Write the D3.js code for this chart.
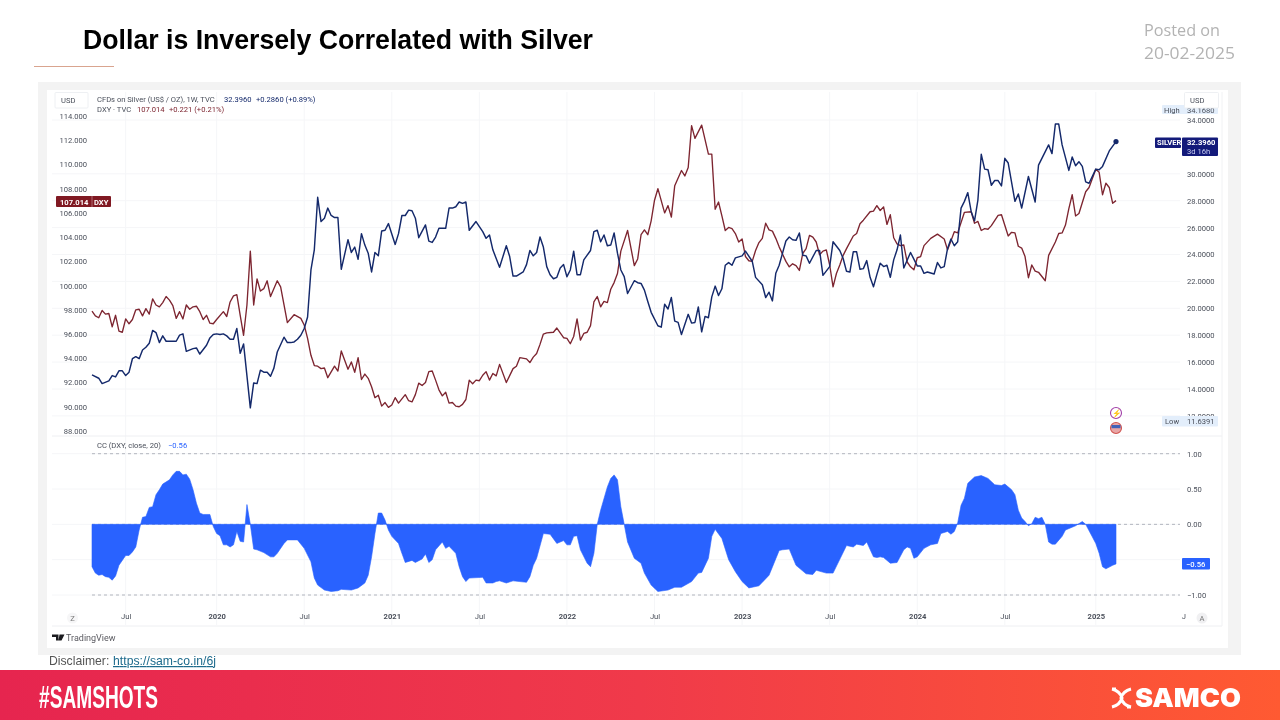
<!DOCTYPE html>
<html><head><meta charset="utf-8">
<script src="https://cdn.jsdelivr.net/npm/d3@7"></script>
<style>html,body{margin:0;padding:0;background:#fff}svg{display:block;filter:blur(0.3px)}
.tv{font-family:Roboto,sans-serif;font-size:7.6px;fill:#4a4f5a}
</style></head><body><div id="chart"></div>
<script>
const dxyWeeks=[0,1,2,3,4,5,6,7,8,9,10,11,12,13,14,15,16,17,18,19,20,21,22,23,24,25,26,27,28,29,30,31,32,33,34,35,36,37,39,40,41,42,43,44,45,46,47,48,49,50,51,52,53,55,56,58,60,62,63,64,65,66,67,68,69,70,72,73,74,76,77,78,79,80,81,82,83,84,85,86,87,88,89,90,91,93,94,95,96,97,98,99,100,101,102,103,104,105,106,107,108,109,110,111,112,113,114,115,116,117,118,119,120,121,123,125,126,127,129,130,131,132,133,134,135,137,138,140,141,142,143,144,145,146,147,148,149,150,151,152,153,154,155,156,157,159,161,162,163,164,165,166,167,168,170,171,172,173,175,176,177,178,179,181,183,184,185,186,187,188,189,190,191,192,193,194,195,196,197,198,199,200,201,202,203,204,206,207,208,209,210,211,212,213,214,215,216,217,218,219,220,221,222,223,224,226,227,228,229,231,232,233,234,235,236,237,238,239,240,241,242,243,244,245,246,247,249,251,253,254,256,257,259,261,262,263,264,265,266,267,269,270,272,273,274,275,276,277,278,279,280,281,283,284,286,287,288,289,290,291,292,293,295,296,298,299,300,301,302,303,304];
const dxyValues=[97.9,97.5,97.35,97.95,97.65,97.7,96.6,97.55,96.25,96.15,97.25,96.85,97.2,98,98.05,97.5,98.1,97.65,98.9,98.4,98.25,98.6,99.1,98.8,98.35,97.3,97.85,97.25,98.4,98.05,98.25,98.3,97.85,97.2,97.55,96.9,96.85,97.2,97.85,97.45,98.65,99.15,99.25,97.55,95.9,98.4,102.85,98.4,100.55,99.55,99.75,100.4,99.1,100.4,99.9,96.95,97.6,97.3,96.75,95.65,94.25,93.4,93.35,93.15,93.2,92.4,93.35,92.95,94.6,93.1,93.7,92.85,94.05,92.25,92.7,92.35,91.65,90.75,90.95,90.05,90.35,89.95,90.15,90.75,90.3,91,90.5,90.4,91,91.95,91.75,92,92.9,92.95,92.2,91.4,90.9,91.2,90.3,90.35,90.05,90,90.2,90.6,92.2,91.9,92.2,92.15,92.6,92.9,92.2,92.75,92.55,93.5,92,93.15,93.35,94.05,93.95,93.65,94.1,94.4,95.15,96,96.1,96.15,96.5,95.7,95.65,95.2,95.8,97.25,95.5,96.05,96.15,96.7,98.65,99.1,98.25,98.7,98.6,99.7,100.25,101,102.85,104.55,101.65,102.2,104.2,104.6,104.2,105.35,107.05,108,106,106.6,105.65,108.25,109.5,109.05,109.75,113.2,112.15,113.25,110.85,110.85,106.3,106.9,105.75,104.55,104.8,104.7,104.3,103.6,103.85,102.4,102.05,102,102.9,103.55,103.9,105.15,104.6,104.5,103.9,103.2,102,101.55,101.8,101.65,101.25,102.65,103.05,104.15,104,103.6,102.55,102.85,102.95,101.7,99.9,101,101.7,102.5,103.05,104.1,104.3,105.1,105.4,106.1,106.15,106.6,106.2,106.5,105.05,105.85,103.95,103.45,103.3,103.35,101.95,101.55,101.3,102.3,102.4,103.3,103.9,104.25,103.85,102.95,104.45,104.35,106.05,106.1,105.15,105.3,104.55,104.7,104.65,104.95,105.8,105.85,104.1,104.4,104.35,103.25,103.1,102.4,100.65,101.7,101.2,101.1,100.4,102.5,103.6,104.3,104.35,105,106.35,107.5,105.75,105.95,107.75,108.1,109.6,109.35,107.5,108.45,108.1,106.8,107.014];
const silverWeeks=[0,2,3,5,6,7,8,9,10,11,12,13,14,15,16,17,18,19,20,21,22,25,26,27,28,30,31,32,34,35,36,37,38,39,40,41,42,43,44,45,47,48,49,50,51,52,53,54,55,57,58,59,60,61,62,63,64,65,66,67,68,69,70,71,72,73,74,76,77,78,79,80,81,82,83,84,85,86,87,88,90,91,92,93,94,95,96,97,99,100,101,102,103,105,106,107,108,109,110,111,112,114,116,117,118,119,121,123,124,125,126,128,129,130,131,132,133,134,135,136,137,138,139,140,141,142,143,144,145,146,148,149,150,151,152,153,154,155,156,157,158,159,161,162,163,164,165,166,168,169,170,171,172,173,174,175,177,178,179,180,181,182,183,184,185,186,187,188,189,190,191,193,194,196,197,199,200,201,202,203,204,206,207,208,209,210,211,212,213,215,216,217,219,220,222,223,224,225,226,227,228,229,230,231,232,233,234,235,236,237,238,239,240,241,243,245,246,247,248,250,251,252,253,254,255,256,257,258,259,260,261,262,263,264,265,266,267,268,269,270,271,272,274,275,276,278,280,281,284,285,286,287,288,290,291,292,293,294,295,296,298,299,300,302,304];
const silverValues=[15.05,14.8,14.4,14.6,15,14.9,15.35,15.35,15,15.25,16.25,16.4,16.25,16.9,17.1,17.4,18.35,18.2,17.45,17.95,17.55,17.55,18,18.1,16.8,17,17.05,16.6,17.25,17.8,18.05,18.1,18.05,18.1,17.95,17.7,17.7,18.5,16.65,17.35,12.6,14.45,14.4,15.4,15.25,15.25,14.95,15.55,16.75,17.85,17.45,17.45,17.5,17.7,18,18.5,19.35,22.85,24.35,28.25,26.45,26.7,27.45,26.9,26.75,26.75,22.9,25.1,24.15,24.55,23.65,25.55,24.7,24.1,22.7,24.15,23.9,25.75,25.8,26.3,24.75,25.55,26.9,26.9,27.3,27.25,26.7,25.25,26.2,25,24.9,25.3,25.95,25.95,27.45,27.45,27.55,27.9,27.8,27.9,25.8,26.45,25.7,25.2,25.45,24.35,23.05,24.65,23.85,22.4,22.4,22.7,23.25,24.3,23.9,24.15,25.3,24.55,23.1,22.5,22.2,22.3,23,23.25,22.35,22.85,24.25,22.5,22.5,23.6,24.3,25.7,25.8,24.95,25.45,24.65,24.7,25.6,24.1,22.85,22.35,21.1,22.05,21.9,21.85,21.35,20.5,19.7,18.7,18.6,20.3,19.95,20.8,19.05,18.95,18.05,19.55,18.9,18.95,20.1,18.25,19.4,19.3,20.85,21.65,20.95,21.45,23.2,23.4,23.2,23.75,23.9,24.25,23.5,22.3,21.75,20.8,21.2,20.55,22.6,23.2,25,25.3,25.1,25.05,25.6,23.95,23.9,23.35,24.3,24.3,22.45,23.1,24.95,24.3,23.7,22.75,22.7,24.2,24.2,22.9,22.95,23.55,22.3,21.6,22.5,23.35,23.1,23.2,22.3,23.6,24.35,25.45,23,24.15,23.15,23.15,22.6,22.7,22.55,23.4,23,23.1,24.45,25.15,24.65,24.95,27.45,27.95,28.6,27.2,26.5,28.05,31.45,30.35,30.3,29.15,29.5,29.5,29.1,31.15,30.8,27.95,28.5,27.45,29.8,27.9,30.65,32.15,31.5,33.7,33.7,32.15,30.25,31.25,30.6,30.9,30.55,29.4,29.3,30.35,30.3,30.55,31.7,32.396];
const ccWeeks=[0,1,2,3,4,5,6,7,8,10,11,12,13,14,15,16,17,18,19,20,21,23,24,25,26,27,28,29,30,31,32,33,35,36,37,38,39,40,41,42,43,44,45,46,47,48,49,51,53,54,55,57,58,61,63,65,66,67,69,71,73,74,77,79,81,82,83,84,85,86,87,88,89,91,92,93,95,96,98,99,100,101,102,104,105,106,108,109,110,111,112,116,117,119,120,121,123,125,129,130,131,132,134,136,138,140,141,142,143,144,145,147,148,149,150,151,153,154,155,156,157,158,159,161,163,164,166,168,171,173,175,178,180,181,183,184,185,187,189,191,193,195,198,201,204,205,207,209,212,214,215,218,220,224,226,227,229,230,232,233,234,235,237,239,241,242,243,244,245,247,249,251,252,254,255,256,257,258,259,260,262,264,266,268,270,271,273,274,275,276,277,278,279,280,281,282,283,284,285,286,288,289,292,294,295,297,298,299,300,301,303,304];
const ccValues=[-0.6,-0.69,-0.72,-0.71,-0.74,-0.75,-0.79,-0.73,-0.58,-0.44,-0.44,-0.39,-0.32,-0.08,0.1,0.11,0.24,0.25,0.42,0.49,0.57,0.63,0.7,0.75,0.75,0.7,0.71,0.64,0.49,0.3,0.16,0.14,0.14,-0.03,-0.13,-0.16,-0.29,-0.29,-0.32,-0.29,-0.1,-0.24,-0.25,0.28,0,-0.35,-0.36,-0.4,-0.46,-0.46,-0.41,-0.27,-0.22,-0.22,-0.34,-0.53,-0.76,-0.86,-0.93,-0.95,-0.94,-0.92,-0.93,-0.9,-0.83,-0.72,-0.46,-0.13,0.16,0.16,0.06,-0.08,-0.17,-0.27,-0.41,-0.54,-0.51,-0.54,-0.49,-0.42,-0.54,-0.5,-0.36,-0.25,-0.34,-0.31,-0.41,-0.6,-0.74,-0.81,-0.76,-0.75,-0.83,-0.83,-0.81,-0.8,-0.83,-0.8,-0.82,-0.74,-0.58,-0.48,-0.13,-0.14,-0.27,-0.23,-0.29,-0.29,-0.17,-0.16,-0.36,-0.55,-0.6,-0.41,0,0.2,0.53,0.65,0.7,0.63,0.25,0,-0.25,-0.48,-0.55,-0.69,-0.86,-0.95,-0.93,-0.89,-0.89,-0.81,-0.69,-0.68,-0.48,-0.17,-0.07,-0.2,-0.5,-0.67,-0.81,-0.9,-0.87,-0.72,-0.37,-0.36,-0.35,-0.58,-0.7,-0.71,-0.65,-0.69,-0.69,-0.3,-0.32,-0.28,-0.3,-0.25,-0.46,-0.47,-0.46,-0.47,-0.55,-0.54,-0.36,-0.32,-0.34,-0.48,-0.46,-0.34,-0.29,-0.27,-0.13,-0.1,-0.14,-0.1,0.02,0.27,0.37,0.58,0.67,0.69,0.65,0.56,0.55,0.57,0.49,0.42,0.2,0.09,0.04,-0.02,0.01,0.1,0.08,0.1,0,-0.25,-0.28,-0.28,-0.17,-0.08,-0.02,0.04,0,-0.18,-0.27,-0.41,-0.6,-0.63,-0.58,-0.56];

const dxyTicks=[88,90,92,94,96,98,100,102,104,106,108,110,112,114];
const silverTicks=[12,14,16,18,20,22,24,26,28,30,34];
const ccTicks=[-1,-0.5,0,0.5,1];
const xTickDates=["2019-07-01","2020-01-06","2020-07-06","2021-01-04","2021-07-05","2022-01-03","2022-07-04","2023-01-02","2023-07-03","2024-01-01","2024-07-01","2025-01-06","2025-07-07"];
const xTickLabels=["Jul","2020","Jul","2021","Jul","2022","Jul","2023","Jul","2024","Jul","2025","J"];

const parse=d3.timeParse("%Y-%m-%d");
const start=parse("2019-04-22");
const toDate=w=>d3.timeDay.offset(start,7*w);
const pairs=(ws,vs)=>ws.map((w,i)=>({d:toDate(w),v:vs[i]}));

const svg=d3.select("#chart").append("svg").attr("width",1280).attr("height",720);
const defs=svg.append("defs");
const gr=defs.append("linearGradient").attr("id","foot");
gr.append("stop").attr("offset","0").attr("stop-color","#e6254f");
gr.append("stop").attr("offset","0.5").attr("stop-color","#f03a4a");
gr.append("stop").attr("offset","1").attr("stop-color","#ff5a32");

const x=d3.scaleTime().domain([start,toDate(304)]).range([92,1116]);
const yD=d3.scaleLinear().domain([88,114]).range([431,116]);
const yS=d3.scaleLinear().domain([14,34]).range([389,120]);
const yC=d3.scaleLinear().domain([-1,1]).range([595,453.7]);

// header
svg.append("text").attr("x",83).attr("y",49).text("Dollar is Inversely Correlated with Silver")
 .attr("font-family","Liberation Sans").attr("font-weight",700).attr("font-size",28).attr("textLength",510).attr("lengthAdjust","spacingAndGlyphs").attr("fill","#000");
svg.append("line").attr("x1",34).attr("x2",114).attr("y1",66.5).attr("y2",66.5).attr("stroke","#d9a48f");
const postedWidths=[76,91];
svg.selectAll(".posted").data(["Posted on","20-02-2025"]).join("text").attr("x",1144).attr("y",(d,i)=>35.5+i*23.5).text(d=>d)
 .attr("font-family","Open Sans").attr("font-size",17).attr("textLength",(d,i)=>postedWidths[i]).attr("lengthAdjust","spacingAndGlyphs").attr("fill","#b3b3b3");

// panel
svg.append("rect").attr("x",38).attr("y",82).attr("width",1203).attr("height",573).attr("fill","#f3f3f3");
svg.append("rect").attr("x",47).attr("y",90).attr("width",1181).attr("height",558).attr("fill","#fff");

// grid
const grid=svg.append("g").attr("stroke","#f5f6f8").attr("stroke-width",1);
grid.selectAll(".v").data(xTickDates.slice(0,12)).join("line").attr("x1",d=>x(parse(d))).attr("x2",d=>x(parse(d))).attr("y1",92).attr("y2",625);
grid.selectAll(".h").data(silverTicks).join("line").attr("x1",52).attr("x2",1180).attr("y1",d=>yS(d)).attr("y2",d=>yS(d));
grid.selectAll(".c").data(ccTicks).join("line").attr("x1",52).attr("x2",1180).attr("y1",d=>yC(d)).attr("y2",d=>yC(d));
svg.append("line").attr("x1",52).attr("x2",1222).attr("y1",436).attr("y2",436).attr("stroke","#eeeff2");
svg.append("line").attr("x1",52).attr("x2",1222).attr("y1",626).attr("y2",626).attr("stroke","#eeeff2");
svg.append("line").attr("x1",1222).attr("x2",1222).attr("y1",92).attr("y2",626).attr("stroke","#f1f2f4");

// lines
const lineD=d3.line().x(d=>x(d.d)).y(d=>yD(d.v));
const lineS=d3.line().x(d=>x(d.d)).y(d=>yS(d.v));
svg.append("path").datum(pairs(dxyWeeks,dxyValues)).attr("d",lineD).attr("fill","none").attr("stroke","#7d2530").attr("stroke-width",1.35).attr("stroke-linejoin","round");
svg.append("path").datum(pairs(silverWeeks,silverValues)).attr("d",lineS).attr("fill","none").attr("stroke","#14296b").attr("stroke-width",1.45).attr("stroke-linejoin","round");
svg.append("circle").attr("cx",x(toDate(304))).attr("cy",yS(32.396)).attr("r",2.6).attr("fill","#14296b");

// axes
const axL=d3.axisLeft(yD).tickValues(dxyTicks).tickSize(0).tickPadding(0).tickFormat(d3.format(".3f"));
const gL=svg.append("g").attr("transform","translate(87,0)").call(axL);
const axR=d3.axisRight(yS).tickValues(silverTicks).tickSize(0).tickPadding(0).tickFormat(d3.format(".4f"));
const gR=svg.append("g").attr("transform","translate(1187,0)").call(axR);
const axC=d3.axisRight(yC).tickValues(ccTicks).tickSize(0).tickPadding(0).tickFormat(d=>d3.format(".2f")(d).replace("-","\u2212"));
const gC=svg.append("g").attr("transform","translate(1187,0)").call(axC);
const axB=d3.axisBottom(x).tickValues(xTickDates.map(parse)).tickSize(0).tickPadding(0).tickFormat((d,i)=>xTickLabels[i]);
const gB=svg.append("g").attr("transform","translate(0,614)").call(axB);
[gL,gR,gC,gB].forEach(g=>{g.select(".domain").remove();g.selectAll("text").attr("class","tv").attr("font-family",null).attr("font-size",null);});
gB.selectAll("text").style("font-weight",(d,i)=>/^\d/.test(xTickLabels[i])?700:400);

// CC pane
const dash=svg.append("g").attr("stroke","#b2b5be").attr("stroke-dasharray","3 3").attr("stroke-width",1);
dash.selectAll("line").data([1,0,-1]).join("line").attr("x1",92).attr("x2",1180).attr("y1",d=>yC(d)).attr("y2",d=>yC(d));
const area=d3.area().x(d=>x(d.d)).y0(yC(0)).y1(d=>yC(d.v));
const cc=pairs(ccWeeks,ccValues);
svg.append("path").datum(cc).attr("d",area).attr("fill","#2962ff").attr("stroke","#2962ff").attr("stroke-width",0.6);

// legends
function tspans(yp,parts){const t=svg.append("text").attr("class","tv").attr("y",yp);
 parts.forEach(p=>t.append("tspan").attr("x",p[0]).text(p[1]).style("fill",p[2]));}
tspans(102,[[97,"CFDs on Silver (US$ / OZ), 1W, TVC","#4a4f5a"],[224,"32.3960","#14296b"],[256,"+0.2860 (+0.89%)","#14296b"]]);
tspans(112,[[97,"DXY \u00b7 TVC","#4a4f5a"],[137,"107.014","#7d2530"],[169,"+0.221 (+0.21%)","#7d2530"]]);
tspans(448,[[97,"CC (DXY, close, 20)","#4a4f5a"],[168,"\u22120.56","#2962ff"]]);

// price labels
function box(xp,yp,w,h,fill,stroke){return svg.append("rect").attr("x",xp).attr("y",yp).attr("width",w).attr("height",h).attr("fill",fill).attr("stroke",stroke||"none").attr("rx",1);}
function lab(xp,yp,s,fill,weight,anchor){return svg.append("text").attr("class","tv").attr("x",xp).attr("y",yp).text(s).style("fill",fill).style("font-weight",weight||400).attr("text-anchor",anchor||"start");}
box(56,196,55,11,"#801922");
svg.append("line").attr("x1",92).attr("x2",92).attr("y1",196).attr("y2",207).attr("stroke","#b06a70");
lab(60,204.5,"107.014","#fff",700); lab(94,204.5,"DXY","#fff",700);
box(1155,137.5,26,10.5,"#131a7a");
box(1182,137.5,36,18.5,"#131a7a");
lab(1157,145.3,"SILVER","#fff",700); lab(1187,145.3,"32.3960","#fff",700); lab(1187,154,"3d 16h","#c9cdf0");
box(1162,105,56,9,"#e3eefb");
lab(1164,112.5,"High","#4a4f5a"); lab(1187,113,"34.1680","#4a4f5a");
box(1184.5,92.5,34,15.5,"#fff","#eef0f3"); lab(1190,103,"USD","#4a4f5a");
box(55,92.5,33,15.5,"#fff","#eef0f3"); lab(61,103,"USD","#4a4f5a");
box(1162,416,56,10.5,"#e3eefb");
lab(1165,424,"Low","#4a4f5a"); lab(1187,424,"11.6391","#4a4f5a");
box(1182,558,28,11.5,"#2962ff"); lab(1186,566.5,"\u22120.56","#fff",500);

// event icons
svg.append("circle").attr("cx",1116).attr("cy",413).attr("r",5.5).attr("fill","#fff").attr("stroke","#a13fa8").attr("stroke-width",1.1);
lab(1116,416,"\u26a1","#a13fa8",400,"middle");
svg.append("circle").attr("cx",1116).attr("cy",428).attr("r",5.5).attr("fill","#e8a6a6").attr("stroke","#d0534f").attr("stroke-width",1.1);
svg.append("rect").attr("x",1111.5).attr("y",425).attr("width",9).attr("height",3.2).attr("fill","#4262b8");

// corner marks
svg.append("circle").attr("cx",72.5).attr("cy",618).attr("r",5.5).attr("fill","#f6f6f7");
lab(72.5,620.7,"Z","#777",400,"middle");
svg.append("circle").attr("cx",1202).attr("cy",618).attr("r",5.5).attr("fill","#f0f0f2");
lab(1202,620.7,"A","#777",400,"middle");

// TradingView mark
svg.append("path").attr("d","M52 634.5h6.5v6h-2.5v-3.5h-4zM59.5 634.5h5l-3 6h-3z").attr("fill","#1b1b1f");
svg.append("text").attr("x",66).attr("y",640.5).text("TradingView").attr("font-family","Roboto").attr("font-size",9).attr("fill","#5a5a60");

// disclaimer
svg.append("text").attr("x",49).attr("y",665).text("Disclaimer:").attr("font-family","Liberation Sans").attr("font-size",12.2).attr("fill","#555");
svg.append("text").attr("x",113).attr("y",665).text("https://sam-co.in/6j").attr("font-family","Liberation Sans").attr("font-size",12.2).attr("textLength",103).attr("fill","#1d6a8c").attr("text-decoration","underline");

// footer
svg.append("rect").attr("y",670).attr("width",1280).attr("height",50).attr("fill","url(#foot)");
svg.append("text").attr("x",39).attr("y",708).text("#SAMSHOTS").attr("font-family","Liberation Sans Narrow, Liberation Sans").attr("font-weight",700).attr("font-size",32).attr("textLength",119).attr("lengthAdjust","spacingAndGlyphs").attr("fill","#fff");
svg.append("text").attr("x",1135).attr("y",707).text("SAMCO").attr("font-family","Inter").attr("font-weight",900).attr("font-size",26).attr("textLength",106).attr("lengthAdjust","spacingAndGlyphs").attr("fill","#fff");
svg.append("path").attr("d","M1112 689 Q1120 691 1122 698 Q1120 705 1112 707 M1131 689 Q1123 691 1121 698 Q1123 705 1131 707 M1112 689 L1116 689 M1127 707 L1131 707").attr("fill","none").attr("stroke","#fff").attr("stroke-width",3);
</script></body></html>
